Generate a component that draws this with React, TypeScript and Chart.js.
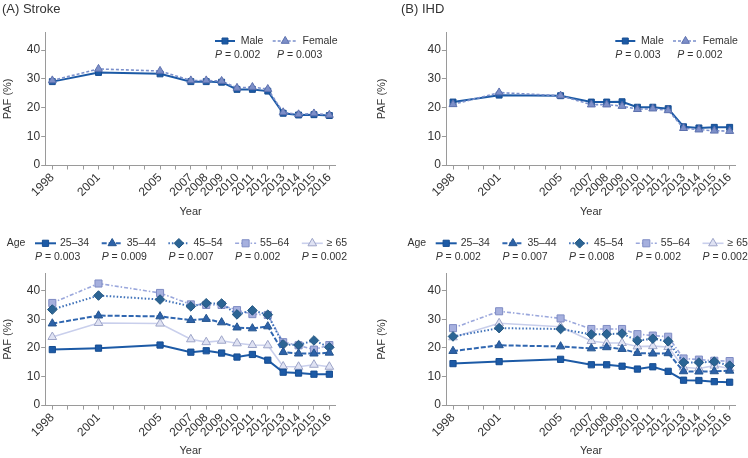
import React, { useEffect, useRef } from 'react';
import { Chart, registerables } from 'chart.js';

Chart.register(...registerables);

// ---------- data ----------
const years = [1998, 2001, 2005, 2007, 2008, 2009, 2010, 2011, 2012, 2013, 2014, 2015, 2016];
const tickYears = [1998, 1999, 2000, 2001, 2002, 2003, 2004, 2005, 2006, 2007, 2008, 2009, 2010, 2011, 2012, 2013, 2014, 2015, 2016];
const yTicks = [0, 10, 20, 30, 40];

const strokeMale = [29.0, 32.2, 31.7, 29.0, 29.0, 28.8, 26.3, 26.3, 25.7, 18.0, 17.4, 17.5, 17.2];
const strokeFemale = [29.4, 33.4, 32.7, 29.4, 29.4, 29.2, 26.8, 27.1, 26.4, 18.3, 17.6, 17.9, 17.4];
const ihdMale = [21.9, 24.3, 24.1, 21.9, 21.9, 22.0, 20.1, 20.1, 19.6, 13.3, 12.9, 13.1, 13.1];
const ihdFemale = [21.1, 25.2, 24.1, 21.0, 21.0, 20.5, 19.4, 19.6, 19.0, 12.8, 12.3, 11.9, 11.8];

const strokeAge2534 = [19.4, 19.9, 21.0, 18.5, 19.0, 18.2, 16.8, 17.7, 15.7, 11.5, 11.2, 10.8, 10.8];
const strokeAge3544 = [28.5, 31.3, 31.0, 29.7, 30.1, 28.9, 27.1, 26.8, 27.5, 18.5, 18.0, 18.0, 18.3];
const strokeAge4554 = [33.4, 38.3, 36.9, 34.5, 35.6, 35.5, 31.7, 33.1, 31.6, 21.2, 21.0, 22.6, 20.2];
const strokeAge5564 = [35.7, 42.5, 39.2, 35.2, 35.0, 35.0, 33.2, 31.8, 31.5, 22.0, 20.9, 19.4, 21.0];
const strokeAge65 = [23.8, 28.7, 28.5, 23.0, 22.0, 22.5, 21.6, 21.0, 20.9, 13.5, 13.4, 14.1, 13.4];

const ihdAge2534 = [14.5, 15.2, 16.0, 14.1, 14.1, 13.6, 12.6, 13.4, 11.8, 8.7, 8.6, 8.2, 8.0];
const ihdAge3544 = [18.9, 20.9, 20.5, 19.8, 20.2, 19.6, 18.2, 18.0, 18.1, 11.8, 11.7, 11.8, 12.0];
const ihdAge4554 = [24.0, 26.9, 26.6, 24.7, 24.8, 25.0, 22.5, 23.2, 22.3, 14.9, 14.9, 15.2, 13.8];
const ihdAge5564 = [26.9, 32.8, 30.3, 26.6, 26.6, 26.6, 24.8, 24.3, 23.9, 16.3, 15.9, 15.5, 15.4];
const ihdAge65 = [23.7, 28.6, 27.4, 22.4, 21.7, 21.7, 20.5, 20.6, 20.3, 13.2, 12.8, 13.8, 12.8];

const sexLabels = ['Male', 'Female'];
const ageLabels = ['25\u201334', '35\u201344', '45\u201354', '55\u201364', '\u2265 65'];
const strokeSexP = ['0.002', '0.003'];
const ihdSexP = ['0.003', '0.002'];
const strokeAgeP = ['0.003', '0.009', '0.007', '0.002', '0.002'];
const ihdAgeP = ['0.002', '0.007', '0.008', '0.002', '0.002'];

// ---------- styles ----------
type Style = {
  color: string; dash: number[]; width: number;
  shape: 'rect' | 'triangle' | 'rectRot'; radius: number; fill: string; border: string;
};
const sStyle: Style[] = [
  { color: '#1c5aa6', dash: [], width: 2, shape: 'rect', radius: 4.2, fill: '#1c5aa6', border: '#174d91' },
  { color: '#7a8fcb', dash: [3, 2], width: 1.6, shape: 'triangle', radius: 4.6, fill: '#7d8fc8', border: '#5c70ae' },
];
const aStyle: Style[] = [
  { color: '#1c5aa6', dash: [], width: 2, shape: 'rect', radius: 4.4, fill: '#1c5aa6', border: '#174d91' },
  { color: '#2f66b0', dash: [5, 2], width: 2, shape: 'triangle', radius: 4.8, fill: '#2d62a8', border: '#25558f' },
  { color: '#3d70b8', dash: [1.5, 2], width: 2, shape: 'rectRot', radius: 4.8, fill: '#2b6494', border: '#245680' },
  { color: '#9aa7dc', dash: [4, 2, 1.5, 2], width: 1.6, shape: 'rect', radius: 5, fill: '#a6b0de', border: '#7f8cc4' },
  { color: '#c9cfec', dash: [], width: 1.6, shape: 'triangle', radius: 5, fill: '#dfe2f3', border: '#9ea5c8' },
];

const FONT = "'Liberation Sans', Arial, sans-serif";
const TXT = '#333333';
const AXIS = '#9a9a9a';
const W = 374;
const H = 229;

function drawMarker(ctx: CanvasRenderingContext2D, s: Style, x: number, y: number) {
  const r = s.radius;
  ctx.save();
  ctx.setLineDash([]);
  ctx.beginPath();
  if (s.shape === 'rect') {
    const h = Math.SQRT1_2 * r;
    ctx.rect(x - h, y - h, 2 * h, 2 * h);
  } else if (s.shape === 'rectRot') {
    ctx.moveTo(x, y - r); ctx.lineTo(x + r, y); ctx.lineTo(x, y + r); ctx.lineTo(x - r, y); ctx.closePath();
  } else {
    let a = 0;
    ctx.moveTo(x + Math.sin(a) * r, y - Math.cos(a) * r);
    a += (2 * Math.PI) / 3;
    ctx.lineTo(x + Math.sin(a) * r, y - Math.cos(a) * r);
    a += (2 * Math.PI) / 3;
    ctx.lineTo(x + Math.sin(a) * r, y - Math.cos(a) * r);
    ctx.closePath();
  }
  ctx.fillStyle = s.fill; ctx.fill();
  ctx.strokeStyle = s.border; ctx.lineWidth = 1; ctx.stroke();
  ctx.restore();
}

function drawSample(ctx: CanvasRenderingContext2D, s: Style, x: number, y: number, w: number) {
  ctx.save();
  ctx.strokeStyle = s.color; ctx.lineWidth = s.width; ctx.setLineDash(s.dash);
  ctx.beginPath(); ctx.moveTo(x, y); ctx.lineTo(x + w, y); ctx.stroke();
  ctx.restore();
  drawMarker(ctx, s, x + w / 2, y);
}

function drawP(ctx: CanvasRenderingContext2D, x: number, y: number, p: string) {
  ctx.save();
  ctx.fillStyle = TXT; ctx.textBaseline = 'middle'; ctx.textAlign = 'left';
  ctx.font = `italic 10.5px ${FONT}`;
  ctx.fillText('P', x, y);
  const pw = ctx.measureText('P').width;
  ctx.font = `10.5px ${FONT}`;
  ctx.fillText(` = ${p}`, x + pw, y);
  ctx.restore();
}

type PanelDef = {
  x: number; y: number; title: string; titleX: number; kind: 'sex' | 'age';
  series: number[][]; labels: string[]; styles: Style[]; pvals: string[];
  cl: number; cr: number; ct: number; cb: number; xMin: number; xMax: number; titlePad: number;
};

function Panel({ def }: { def: PanelDef }) {
  const ref = useRef<HTMLCanvasElement>(null);
  useEffect(() => {
    const canvas = ref.current!;
    const legendPlugin = {
      id: 'customLegend',
      afterDraw(chart: any) {
        const ctx: CanvasRenderingContext2D = chart.ctx;
        const area = chart.chartArea;
        ctx.save();
        ctx.fillStyle = TXT;
        ctx.textBaseline = 'alphabetic';
        ctx.font = `13px ${FONT}`;
        ctx.fillText(def.title, def.titleX, 12.5);
        ctx.font = `10.5px ${FONT}`;
        ctx.textBaseline = 'middle';
        if (def.kind === 'sex') {
          const r = area.right;
          const cols = [
            { sx: r - 120.5, sw: 20, tx: r - 94.8, px: r - 120.5 },
            { sx: r - 62.8, sw: 25, tx: r - 33, px: r - 58.5 },
          ];
          cols.forEach((c, i) => {
            drawSample(ctx, def.styles[i], c.sx, 41, c.sw);
            ctx.fillStyle = TXT;
            ctx.font = `10.5px ${FONT}`;
            ctx.textBaseline = 'middle';
            ctx.fillText(def.labels[i], c.tx, 41);
            drawP(ctx, c.px, 55, def.pvals[i]);
          });
        } else {
          const l = area.left;
          ctx.fillText('Age', l - 39, 14.3);
          def.labels.forEach((lab, i) => {
            const sx = l - 10.7 + i * 66.7;
            drawSample(ctx, def.styles[i], sx, 14.3, 21);
            ctx.fillStyle = TXT;
            ctx.font = `10.5px ${FONT}`;
            ctx.textBaseline = 'middle';
            ctx.fillText(lab, sx + 25, 14.3);
            drawP(ctx, sx, 27.7, def.pvals[i]);
          });
        }
        ctx.restore();
      },
    };

    const datasets = def.series.map((d, i) => {
      const s = def.styles[i];
      return {
        label: def.labels[i],
        data: years.map((yr, j) => ({ x: yr, y: d[j] })),
        borderColor: s.color,
        borderWidth: s.width,
        borderDash: s.dash,
        pointStyle: s.shape,
        pointRadius: s.radius,
        pointBackgroundColor: s.fill,
        pointBorderColor: s.border,
        pointBorderWidth: 1,
        tension: 0,
        fill: false,
        order: def.kind === 'sex' ? (i === 0 ? 1 : 0) : i,
      };
    });

    const chart = new Chart(canvas, {
      type: 'line',
      data: { datasets },
      plugins: [legendPlugin],
      options: {
        animation: false,
        responsive: false,
        maintainAspectRatio: false,
        layout: { padding: { top: def.ct, right: W - def.cr, left: 0, bottom: 0 } },
        plugins: { legend: { display: false }, tooltip: { enabled: false } },
        scales: {
          x: {
            type: 'linear',
            min: def.xMin,
            max: def.xMax,
            afterBuildTicks: (scale: any) => { scale.ticks = tickYears.map((v) => ({ value: v })); },
            afterFit: (scale: any) => { scale.height = H - def.cb; },
            ticks: {
              autoSkip: false,
              minRotation: 45,
              maxRotation: 45,
              padding: 1,
              color: TXT,
              font: { family: FONT, size: 12 },
              callback: (v: any) => (years.includes(Number(v)) ? String(v) : ''),
            },
            grid: { display: true, drawOnChartArea: false, drawTicks: true, tickLength: 4.5, color: AXIS, lineWidth: 1 },
            border: { display: true, color: AXIS, width: 1 },
            title: { display: true, text: 'Year', color: TXT, font: { family: FONT, size: 11 }, padding: { top: 0, bottom: def.titlePad } },
          },
          y: {
            type: 'linear',
            min: 0,
            max: 46,
            afterBuildTicks: (scale: any) => { scale.ticks = yTicks.map((v) => ({ value: v })); },
            afterFit: (scale: any) => { scale.width = def.cl; },
            ticks: { padding: 1, color: TXT, font: { family: FONT, size: 12 } },
            grid: { display: true, drawOnChartArea: false, drawTicks: true, tickLength: 4.5, color: AXIS, lineWidth: 1 },
            border: { display: true, color: AXIS, width: 1 },
            title: { display: true, text: 'PAF (%)', color: TXT, font: { family: FONT, size: 11 }, padding: { top: 1, bottom: 0 } },
          },
        },
      } as any,
    });
    return () => chart.destroy();
  }, [def]);
  return (
    <canvas
      ref={ref}
      width={W}
      height={H}
      style={{ position: 'absolute', left: def.x, top: def.y, width: W, height: H }}
    />
  );
}

const panels: PanelDef[] = [
  {
    x: 0, y: 0, title: '(A) Stroke', titleX: 2, kind: 'sex',
    series: [strokeMale, strokeFemale], labels: sexLabels, styles: sStyle, pvals: strokeSexP,
    cl: 45.7, cr: 335.5, ct: 32.75, cb: 165, xMin: 1997.57, xMax: 2016.4, titlePad: 10,
  },
  {
    x: 374, y: 0, title: '(B) IHD', titleX: 27, kind: 'sex',
    series: [ihdMale, ihdFemale], labels: sexLabels, styles: sStyle, pvals: ihdSexP,
    cl: 72.4, cr: 361.8, ct: 32.75, cb: 165, xMin: 1997.57, xMax: 2016.4, titlePad: 10,
  },
  {
    x: 0, y: 229, title: '', titleX: 2, kind: 'age',
    series: [strokeAge2534, strokeAge3544, strokeAge4554, strokeAge5564, strokeAge65],
    labels: ageLabels, styles: aStyle, pvals: strokeAgeP,
    cl: 45.7, cr: 335.5, ct: 44.5, cb: 176.1, xMin: 1997.57, xMax: 2016.4, titlePad: 0,
  },
  {
    x: 374, y: 229, title: '', titleX: 27, kind: 'age',
    series: [ihdAge2534, ihdAge3544, ihdAge4554, ihdAge5564, ihdAge65],
    labels: ageLabels, styles: aStyle, pvals: ihdAgeP,
    cl: 72.4, cr: 361.8, ct: 44.5, cb: 176.1, xMin: 1997.57, xMax: 2016.4, titlePad: 0,
  },
];

export default function App() {
  return (
    <div style={{ position: 'fixed', left: 0, top: 0, width: 748, height: 458, background: '#ffffff' }}>
      {panels.map((p, i) => (
        <Panel key={i} def={p} />
      ))}
    </div>
  );
}
